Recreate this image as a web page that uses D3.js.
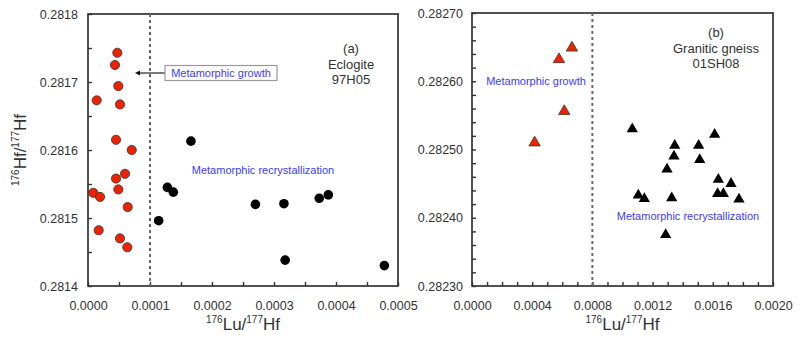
<!DOCTYPE html>
<html><head><meta charset="utf-8">
<script src="https://cdn.jsdelivr.net/npm/d3@7"></script>
<style>
body{margin:0;background:#fff;}
text{font-family:"Liberation Sans",Arial,sans-serif;}
</style></head>
<body>
<svg id="chart" width="800" height="348"></svg>
<script>
// Panel (a): Eclogite 97H05 — circles
const aGrowthLu = [0.0000473,0.0000435,0.0000489,0.0000140,0.0000516,0.0000452,0.0000705,0.0000597,0.0000452,0.0000489,0.0000086,0.0000194,0.0000640,0.0000172,0.0000516,0.0000634];
const aGrowthHf = [0.281743,0.281725,0.281694,0.281673,0.281667,0.281615,0.281600,0.281565,0.281558,0.281542,0.281537,0.281531,0.281516,0.281482,0.281470,0.281457];
const aRecrLu = [0.000166,0.000128,0.0001376,0.000114,0.000270,0.000316,0.000373,0.0003876,0.000318,0.000478];
const aRecrHf = [0.281613,0.281545,0.281538,0.281496,0.281520,0.281521,0.281529,0.281534,0.281438,0.281430];
const aXTicks = [0.0000,0.0001,0.0002,0.0003,0.0004,0.0005];
const aYTicks = [0.2814,0.2815,0.2816,0.2817,0.2818];

// Panel (b): Granitic gneiss 01SH08 — triangles
const bGrowthLu = [0.000664,0.000578,0.000613,0.000416];
const bGrowthHf = [0.282649,0.282632,0.282556,0.282510];
const bRecrLu = [0.001065,0.001612,0.001347,0.001506,0.001342,0.001513,0.001296,0.001637,0.001721,0.001105,0.001145,0.001327,0.001632,0.001670,0.001774,0.001287];
const bRecrHf = [0.282530,0.282522,0.282506,0.282506,0.282490,0.282485,0.282471,0.282456,0.282450,0.282433,0.282428,0.282429,0.282435,0.282435,0.282427,0.282375];
const bXTicks = [0.0000,0.0004,0.0008,0.0012,0.0016,0.0020];
const bYTicks = [0.28230,0.28240,0.28250,0.28260,0.28270];

const svg = d3.select("#chart");
const axisColor = "#333";
const textColor = "#333";
const blue = "#3b3bff";

function panel(opt){
  const x = d3.scaleLinear().domain(opt.xDomain).range([opt.left, opt.right]);
  const y = d3.scaleLinear().domain(opt.yDomain).range([opt.bottom, opt.top]);
  const g = svg.append("g");
  g.append("rect").attr("x",opt.left).attr("y",opt.top)
    .attr("width",opt.right-opt.left).attr("height",opt.bottom-opt.top)
    .attr("fill","none").attr("stroke",axisColor).attr("stroke-width",1.7);
  const xAxis = d3.axisBottom(x).tickValues(opt.xMinor).tickSize(-4).tickFormat("");
  g.append("g").attr("transform",`translate(0,${opt.bottom})`).call(xAxis)
    .call(s=>{s.select(".domain").remove(); s.selectAll("line").attr("stroke",axisColor).attr("stroke-width",1.4);});
  const yAxis = d3.axisLeft(y).tickValues(opt.yMinor).tickSize(-4).tickFormat("");
  g.append("g").attr("transform",`translate(${opt.left},0)`).call(yAxis)
    .call(s=>{s.select(".domain").remove(); s.selectAll("line").attr("stroke",axisColor).attr("stroke-width",1.4);});
  const xl = d3.axisBottom(x).tickValues(opt.xTicks).tickSize(0).tickPadding(15).tickFormat(d3.format(".4f"));
  g.append("g").attr("transform",`translate(0,${opt.bottom})`).call(xl)
    .call(s=>{s.select(".domain").remove(); s.selectAll("text").attr("fill",textColor).attr("font-size",12.5).attr("font-family","Liberation Sans, Arial, sans-serif");});
  const yl = d3.axisLeft(y).tickValues(opt.yTicks).tickSize(0).tickPadding(opt.yPad).tickFormat(d3.format(opt.yFmt));
  g.append("g").attr("transform",`translate(${opt.left},0)`).call(yl)
    .call(s=>{s.select(".domain").remove(); s.selectAll("text").attr("fill",textColor).attr("font-size",12.5).attr("font-family","Liberation Sans, Arial, sans-serif");});
  g.append("line").attr("x1",x(opt.divider)).attr("x2",x(opt.divider))
    .attr("y1",opt.top).attr("y2",opt.bottom)
    .attr("stroke","#666").attr("stroke-width",2).attr("stroke-dasharray","3,3");
  const xt = g.append("text").attr("x",(opt.left+opt.right)/2).attr("y",330)
    .attr("text-anchor","middle").attr("font-size",17).attr("fill",textColor);
  xt.append("tspan").attr("font-size",10).attr("dy",-7).text("176");
  xt.append("tspan").attr("dy",7).text("Lu/");
  xt.append("tspan").attr("font-size",10).attr("dy",-7).text("177");
  xt.append("tspan").attr("dy",7).text("Hf");
  return {x,y,g};
}

const A = panel({xDomain:[0,0.0005], yDomain:[0.2814,0.2818], left:88, right:398, top:14, bottom:286,
  xTicks:aXTicks, yTicks:aYTicks, xMinor:d3.range(0,0.00050001,0.00005), yMinor:d3.range(0.2814,0.281801,0.00005),
  yPad:10, yFmt:".4f", divider:0.0001});
const B = panel({xDomain:[0,0.002], yDomain:[0.2823,0.2827], left:472, right:773, top:13, bottom:286,
  xTicks:bXTicks, yTicks:bYTicks, xMinor:d3.range(0,0.0020001,0.0001), yMinor:d3.range(0.2823,0.282701,0.00002),
  yPad:9, yFmt:".5f", divider:0.0008});

const yt = svg.append("text").attr("transform","translate(26,150) rotate(-90)")
  .attr("text-anchor","middle").attr("font-size",17).attr("fill",textColor);
yt.append("tspan").attr("font-size",10).attr("dy",-7).text("176");
yt.append("tspan").attr("dy",7).text("Hf/");
yt.append("tspan").attr("font-size",10).attr("dy",-7).text("177");
yt.append("tspan").attr("dy",7).text("Hf");

A.g.selectAll("circle.recr").data(d3.zip(aRecrLu,aRecrHf)).join("circle")
  .attr("cx",d=>A.x(d[0])).attr("cy",d=>A.y(d[1])).attr("r",4.8).attr("fill","#000");
A.g.selectAll("circle.grow").data(d3.zip(aGrowthLu,aGrowthHf)).enter().append("circle")
  .attr("cx",d=>A.x(d[0])).attr("cy",d=>A.y(d[1])).attr("r",4.6)
  .attr("fill","#ee2200").attr("stroke","#333").attr("stroke-width",0.8);

const tri = d3.symbol().type(d3.symbolTriangle).size(55);
B.g.selectAll("path.recr").data(d3.zip(bRecrLu,bRecrHf)).enter().append("path")
  .attr("d",tri).attr("transform",d=>`translate(${B.x(d[0])},${B.y(d[1])})`).attr("fill","#000");
B.g.selectAll("path.grow").data(d3.zip(bGrowthLu,bGrowthHf)).enter().append("path")
  .attr("d",tri).attr("transform",d=>`translate(${B.x(d[0])},${B.y(d[1])})`)
  .attr("fill","#ee2200").attr("stroke","#333").attr("stroke-width",0.8);

function label(g, x, y, lines){
  lines.forEach((t,i)=>g.append("text").attr("x",x).attr("y",y+i*15.5)
    .attr("text-anchor","middle").attr("font-size",13).attr("fill",textColor).text(t));
}
label(A.g, 351, 53, ["(a)","Eclogite","97H05"]);
label(B.g, 716, 37, ["(b)","Granitic gneiss","01SH08"]);

A.g.append("line").attr("x1",165).attr("x2",137).attr("y1",73).attr("y2",73)
  .attr("stroke","#333").attr("stroke-width",1.3);
A.g.append("path").attr("d","M135,73 L140,70.5 L140,75.5 Z").attr("fill","#111");
A.g.append("rect").attr("x",165).attr("y",65.5).attr("width",112).attr("height",15)
  .attr("fill","#fff").attr("stroke","#999").attr("stroke-width",1.2);
A.g.append("text").attr("x",221).attr("y",77).attr("text-anchor","middle")
  .attr("font-size",11).attr("fill",blue).text("Metamorphic growth");
A.g.append("text").attr("x",263).attr("y",174).attr("text-anchor","middle")
  .attr("font-size",11).attr("fill",blue).text("Metamorphic recrystallization");
B.g.append("text").attr("x",536).attr("y",85).attr("text-anchor","middle")
  .attr("font-size",11).attr("fill",blue).text("Metamorphic growth");
B.g.append("text").attr("x",688).attr("y",220).attr("text-anchor","middle")
  .attr("font-size",11).attr("fill",blue).text("Metamorphic recrystallization");
</script>
</body></html>
